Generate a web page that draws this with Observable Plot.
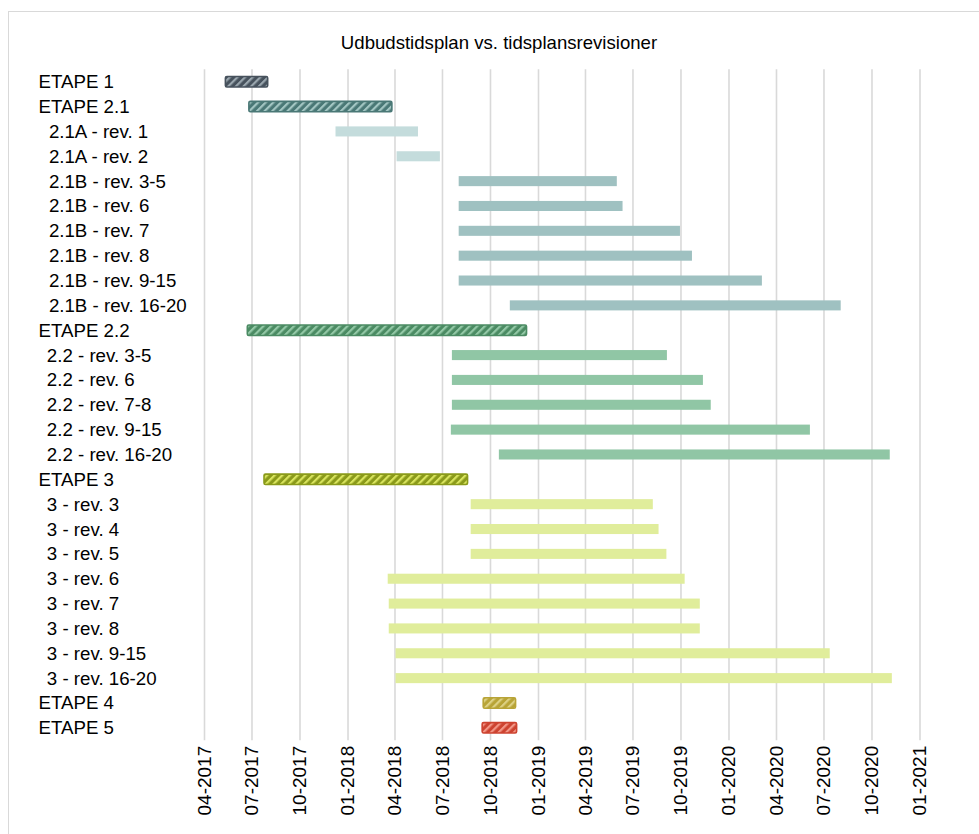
<!DOCTYPE html>
<html>
<head>
<meta charset="utf-8">
<script src="https://cdn.jsdelivr.net/npm/d3@7"></script>
<script src="https://cdn.jsdelivr.net/npm/@observablehq/plot@0.6"></script>
<style>
  html, body { margin: 0; padding: 0; background: #fff; overflow: hidden; }
  #wrap { position: relative; width: 979px; height: 834px; overflow: hidden; font-family: "Liberation Sans", Arial, sans-serif; }
  #frame { position: absolute; left: 8px; top: 11px; width: 1100px; height: 1000px; border: 1px solid #d9d9d9; box-sizing: border-box; }
  #title { position: absolute; left: 0; top: 32px; width: 998px; text-align: center; font-size: 18.6px; line-height: 22px; color: #000; }
  #chart { position: absolute; left: 0; top: 0; }
</style>
</head>
<body>
<div id="wrap">
  <div id="frame"></div>
  <div id="chart"></div>
  <div id="title">Udbudstidsplan vs. tidsplansrevisioner</div>
</div>
<script>
// Tender schedule phases and their schedule revisions (start / end dates)
const labels = [
  "ETAPE 1", "ETAPE 2.1",
  "2.1A - rev. 1", "2.1A - rev. 2",
  "2.1B - rev. 3-5", "2.1B - rev. 6", "2.1B - rev. 7", "2.1B - rev. 8", "2.1B - rev. 9-15", "2.1B - rev. 16-20",
  "ETAPE 2.2",
  "2.2 - rev. 3-5", "2.2 - rev. 6", "2.2 - rev. 7-8", "2.2 - rev. 9-15", "2.2 - rev. 16-20",
  "ETAPE 3",
  "3 - rev. 3", "3 - rev. 4", "3 - rev. 5", "3 - rev. 6", "3 - rev. 7", "3 - rev. 8", "3 - rev. 9-15", "3 - rev. 16-20",
  "ETAPE 4", "ETAPE 5"
];

const starts = [
  "2017-05-12", "2017-06-26",
  "2017-12-09", "2018-04-05",
  "2018-08-02", "2018-08-02", "2018-08-02", "2018-08-02", "2018-08-02", "2018-11-08",
  "2017-06-23",
  "2018-07-20", "2018-07-20", "2018-07-20", "2018-07-18", "2018-10-18",
  "2017-07-25",
  "2018-08-25", "2018-08-25", "2018-08-25", "2018-03-19", "2018-03-21", "2018-03-21", "2018-04-03", "2018-04-03",
  "2018-09-18", "2018-09-16"
];

const ends = [
  "2017-08-01", "2018-03-27",
  "2018-05-16", "2018-06-27",
  "2019-06-01", "2019-06-12", "2019-09-30", "2019-10-23", "2020-03-05", "2020-08-03",
  "2018-12-10",
  "2019-09-05", "2019-11-13", "2019-11-28", "2020-06-05", "2020-11-05",
  "2018-08-19",
  "2019-08-09", "2019-08-20", "2019-09-04", "2019-10-09", "2019-11-07", "2019-11-07", "2020-07-13", "2020-11-09",
  "2018-11-19", "2018-11-21"
];

const groups = [
  "ETAPE 1", "ETAPE 2.1",
  "2.1A", "2.1A",
  "2.1B", "2.1B", "2.1B", "2.1B", "2.1B", "2.1B",
  "ETAPE 2.2",
  "2.2", "2.2", "2.2", "2.2", "2.2",
  "ETAPE 3",
  "3", "3", "3", "3", "3", "3", "3", "3",
  "ETAPE 4", "ETAPE 5"
];

const tickDates = ["2017-04-01", "2017-07-01", "2017-10-01", "2018-01-01", "2018-04-01", "2018-07-01",
  "2018-10-01", "2019-01-01", "2019-04-01", "2019-07-01", "2019-10-01", "2020-01-01",
  "2020-04-01", "2020-07-01", "2020-10-01", "2021-01-01"];

// Phase bars: dark base + light diagonal stripes; revision bars: flat tint
const phaseStyle = {
  "ETAPE 1":   {id: "h-e1",  dark: "#47525d", light: "#9aa6ae"},
  "ETAPE 2.1": {id: "h-e21", dark: "#4a7876", light: "#a3c6c3"},
  "ETAPE 2.2": {id: "h-e22", dark: "#4b8b63", light: "#93c8a6"},
  "ETAPE 3":   {id: "h-e3",  dark: "#8a9a1a", light: "#d8e45e"},
  "ETAPE 4":   {id: "h-e4",  dark: "#b8a437", light: "#ddd184"},
  "ETAPE 5":   {id: "h-e5",  dark: "#cd4330", light: "#f29686"}
};
const revColor = {
  "2.1A": "#c4dcdc",
  "2.1B": "#9fc1c1",
  "2.2":  "#90c6a5",
  "3":    "#e0ed9b"
};

const parse = d3.utcParse("%Y-%m-%d");
const rows = labels.map((label, i) => ({
  label,
  group: groups[i],
  start: parse(starts[i]),
  end: parse(ends[i])
}));
const phases = rows.filter(d => d.group.startsWith("ETAPE"));
const revisions = rows.filter(d => !d.group.startsWith("ETAPE"));
const ticks = tickDates.map(parse);

// leading indent of the category labels
const indent = d => d.startsWith("ETAPE") ? "" : d.startsWith("2.1") ? "\u00a0\u00a0" : "\u00a0\u2006";

const chart = Plot.plot({
  width: 979,
  height: 834,
  marginTop: 69.3,
  marginBottom: 93.75,
  marginLeft: 204,
  marginRight: 59.5,
  style: {fontFamily: "'Liberation Sans', Arial, sans-serif", fontSize: "18.7px", color: "#000", background: "transparent"},
  x: {type: "utc", domain: [parse("2017-04-01"), parse("2021-01-01")]},
  y: {domain: labels, padding: 0, round: false},
  color: {type: "identity"},
  marks: [
    Plot.gridX(ticks, {stroke: "#d9d9d9", strokeOpacity: 1, strokeWidth: 1.6}),
    Plot.axisX({ticks, tickFormat: "%m-%Y", tickRotate: -90, tickSize: 0, tickPadding: 5, label: null, fontSize: 19}),
    Plot.axisY({tickSize: 0, tickPadding: 0, textAnchor: "start", dx: -166, tickFormat: d => indent(d) + d, label: null, fontSize: 18.7}),
    Plot.barX(revisions, {
      x1: "start", x2: "end", y: "label",
      fill: d => revColor[d.group],
      insetTop: 7.4, insetBottom: 7.4
    }),
    Plot.barX(phases, {
      x1: "start", x2: "end", y: "label",
      fill: d => `url(#${phaseStyle[d.group].id})`,
      stroke: d => phaseStyle[d.group].dark,
      strokeWidth: 1.6,
      rx: 1.5,
      insetTop: 7.2, insetBottom: 7.2
    })
  ]
});

// stripe patterns for the phase bars
const defs = d3.select(chart).insert("defs", ":first-child");
Object.values(phaseStyle).forEach(s => {
  const p = defs.append("pattern")
    .attr("id", s.id)
    .attr("patternUnits", "userSpaceOnUse")
    .attr("width", 5.4).attr("height", 5.4)
    .attr("patternTransform", "rotate(45)");
  p.append("rect").attr("width", 5.4).attr("height", 5.4).attr("fill", s.dark);
  p.append("rect").attr("width", 2.2).attr("height", 5.4).attr("fill", s.light);
});

document.getElementById("chart").appendChild(chart);
</script>
</body>
</html>
